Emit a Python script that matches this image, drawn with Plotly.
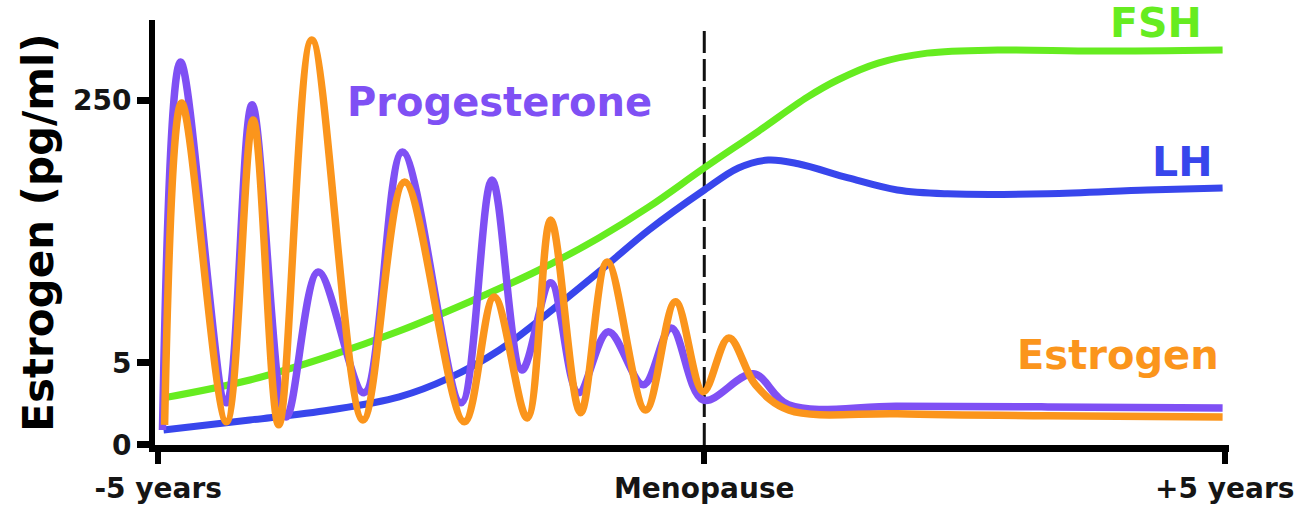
import plotly.graph_objects as go

# ---- data (x in years relative to the timeline, y in relative chart level units) ----
prog_x = [-4.96, -4.79, -4.36, -4.12, -3.80, -3.50, -3.07, -2.71, -2.16, -1.87, -1.59,
          -1.32, -1.06, -0.78, -0.45, -0.19, 0.11, 0.58, 0.91, 1.93, 3.34, 4.98]
prog_y = [4.3, 111.0, 12.2, 98.6, 8.1, 50.1, 15.1, 84.9, 12.2, 76.8, 21.7,
          47.0, 15.1, 32.8, 17.4, 33.9, 13.0, 20.6, 11.6, 11.2, 11.0, 10.7]

estr_x = [-4.94, -4.78, -4.36, -4.11, -3.87, -3.56, -3.08, -2.69, -2.13, -1.85, -1.54,
          -1.32, -1.04, -0.79, -0.43, -0.15, 0.11, 0.35, 0.60, 0.91, 1.93, 3.34, 4.98]
estr_y = [5.8, 99.1, 6.7, 94.2, 5.8, 117.4, 7.2, 76.2, 6.7, 42.9, 7.8,
          65.2, 9.3, 53.0, 10.1, 41.5, 15.4, 31.0, 17.4, 10.1, 9.0, 8.4, 8.1]

fsh_x = [-4.95, -4.14, -3.39, -2.74, -2.08, -1.43, -0.87, -0.40, 0.12, 0.63, 1.09,
         1.37, 1.75, 2.21, 2.87, 3.80, 4.98]
fsh_y = [13.6, 18.8, 25.8, 33.0, 41.5, 50.7, 60.0, 69.0, 80.3, 91.0, 100.9,
         105.8, 110.7, 113.6, 114.5, 114.2, 114.5]

lh_x = [-4.95, -4.14, -3.39, -2.74, -2.27, -1.80, -1.34, -0.87, -0.40, 0.12, 0.44,
        0.72, 1.00, 1.47, 1.93, 2.40, 3.34, 4.27, 4.98]
lh_y = [4.3, 7.2, 10.1, 13.9, 19.4, 27.5, 38.3, 50.1, 62.3, 73.9, 80.3,
        82.6, 81.5, 77.4, 73.9, 72.8, 72.8, 73.9, 74.5]

menopause_x = 0.12
x_tick_vals = [-5.0, menopause_x, 5.0]
x_tick_text = ["-5 years", "Menopause", "+5 years"]
y_tick_vals = [0, 23.8, 100]
y_tick_text = ["0", "5", "250"]

GREEN = "#66ec20"
BLUE = "#3846ec"
PURPLE = "#7f50f4"
ORANGE = "#fb951c"
FONT = "DejaVu Sans"

fig = go.Figure()
for xs, ys, col, w in [(fsh_x, fsh_y, GREEN, 7), (lh_x, lh_y, BLUE, 7),
                       (prog_x, prog_y, PURPLE, 7.5), (estr_x, estr_y, ORANGE, 7.5)]:
    fig.add_trace(go.Scatter(x=xs, y=ys, mode="lines",
                             line=dict(color=col, width=w, shape="spline", smoothing=1.0),
                             hoverinfo="skip", showlegend=False))

fig.add_shape(type="line", x0=menopause_x, x1=menopause_x, y0=0, y1=0.985, yref="paper",
              line=dict(color="#111", width=3, dash="22px,6px"), layer="below")

labels = [("FSH", 4.36, 122.3, GREEN, 41),
          ("LH", 4.60, 82.0, BLUE, 41),
          ("Progesterone", -1.80, 99.3, PURPLE, 40),
          ("Estrogen", 4.00, 26.1, ORANGE, 40)]
for text, x, y, col, size in labels:
    fig.add_annotation(x=x, y=y, text=text, showarrow=False,
                       font=dict(family=FONT, size=size, color=col, weight="bold"))

fig.update_layout(
    width=1306, height=524,
    margin=dict(l=155, r=74, t=20, b=79),
    paper_bgcolor="white", plot_bgcolor="white",
    font=dict(family=FONT, color="black"),
)
fig.update_xaxes(range=[-5.03, 5.04], showgrid=False, zeroline=False,
                 showline=True, linecolor="black", linewidth=7,
                 ticks="outside", ticklen=12, tickwidth=6, tickcolor="black",
                 tickvals=x_tick_vals, ticktext=x_tick_text,
                 tickfont=dict(family=FONT, size=28, color="#151515", weight="bold"))
fig.update_yaxes(range=[-0.05, 123.2], showgrid=False, zeroline=False,
                 showline=True, linecolor="black", linewidth=6,
                 ticks="outside", ticklen=12, tickwidth=7, tickcolor="black",
                 tickvals=y_tick_vals, ticktext=y_tick_text,
                 tickfont=dict(family=FONT, size=28, color="#151515", weight="bold"),
                 title=dict(text="Estrogen (pg/ml)", standoff=8,
                            font=dict(family=FONT, size=42, color="black", weight="bold")))

fig.write_html("out.html", config={"displayModeBar": False},
               post_script="document.body.style.margin='0';")
